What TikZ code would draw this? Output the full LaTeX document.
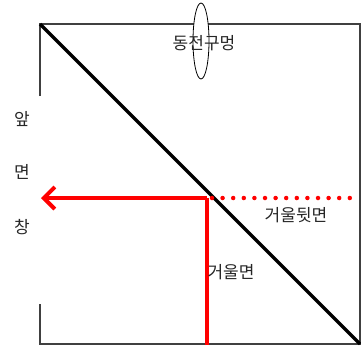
\documentclass[tikz,border=0pt]{standalone}
\usepackage{fontspec}
\newfontfamily\kr{Noto Sans CJK KR}
\usetikzlibrary{arrows.meta,shapes.geometric}
\begin{document}
\begin{tikzpicture}[x=1pt,y=-1pt,
  frame/.style={draw=black!75,line width=1.6pt},
  mirror/.style={draw=black,line width=3.5pt},
  ray/.style={draw=red,line width=4pt},
  lbl/.style={font=\kr\fontsize{17}{17}\selectfont,text=black!85,inner sep=0pt}]
\useasboundingbox (0,0) rectangle (361,345);
\coordinate (tl) at (40,24);
\coordinate (tr) at (360,24);
\coordinate (br) at (360,344);
\coordinate (bl) at (40,344);
\coordinate (lu) at (40,96);
\coordinate (ld) at (40,304);
\coordinate (hit) at (207,198);
\coordinate (tip) at (41,198);
\coordinate (rend) at (360,198);
\coordinate (foot) at (207,345);
% frame
\draw[frame] (lu) -- (tl) -- (tr) -- (br) -- (bl) -- (ld);
% coin hole
\node[draw=black,fill=white,line width=0.8pt,ellipse,minimum width=16pt,minimum height=76pt,inner sep=0pt] (hole) at (201,41) {};
\node[lbl] (coin) at (204,43) {동전구멍};
% mirror diagonal
\draw[mirror] (tl) -- (br);
% rays
\draw[ray] (foot) -- (hit);
\draw[ray,-{Straight Barb[length=11pt,width=22pt,line width=4pt]}] (hit) -- (tip);
\draw[ray,line cap=round,line width=4.5pt,dash pattern=on 0pt off 10.6pt] (212,198) -- (rend);
% labels
\node[lbl] (back) at (296,215) {거울뒷면};
\node[lbl] (face) at (231,272) {거울면};
\node[lbl] (l1) at (22,119) {앞};
\node[lbl] (l2) at (22,172) {면};
\node[lbl] (l3) at (22,227) {창};
\end{tikzpicture}
\end{document}
